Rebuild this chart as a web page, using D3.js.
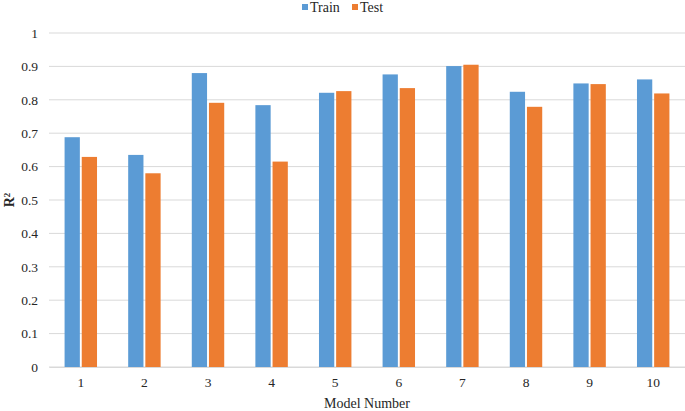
<!DOCTYPE html>
<html>
<head>
<meta charset="utf-8">
<script src="https://cdn.jsdelivr.net/npm/d3@7"></script>
<style>
  body { margin: 0; background: #fff; }
  svg text { font-family: "Liberation Serif", "Times New Roman", serif; fill: #262626; }
</style>
</head>
<body>
<div id="chart"></div>
<script>
// data
const models = ["1", "2", "3", "4", "5", "6", "7", "8", "9", "10"];
const train = [0.688, 0.635, 0.880, 0.784, 0.821, 0.876, 0.901, 0.824, 0.849, 0.861];
const test = [0.629, 0.580, 0.791, 0.615, 0.826, 0.835, 0.905, 0.779, 0.847, 0.819];
const yTicks = [0, 0.1, 0.2, 0.3, 0.4, 0.5, 0.6, 0.7, 0.8, 0.9, 1];
const seriesNames = ["Train", "Test"];
const colors = ["#5B9BD5", "#ED7D31"];

const W = 685, H = 411;
const margin = { top: 33, right: 0, bottom: 44, left: 49 };
const width = W - margin.left - margin.right;
const height = H - margin.top - margin.bottom;

const svg = d3.select("#chart")
    .append("svg")
    .attr("width", W)
    .attr("height", H);

const g = svg.append("g")
    .attr("transform", `translate(${margin.left},${margin.top})`);

// scales
const x = d3.scaleBand()
    .domain(models)
    .range([0, width]);

const xInner = d3.scaleBand()
    .domain(seriesNames)
    .range([x.bandwidth() * 0.245, x.bandwidth() * 0.755])
    .paddingInner(0.11);

const y = d3.scaleLinear()
    .domain([0, 1])
    .range([height, 0]);

// gridlines
g.append("g")
    .selectAll("line")
    .data(yTicks)
    .join("line")
    .attr("x1", 0)
    .attr("x2", width)
    .attr("y1", d => y(d))
    .attr("y2", d => y(d))
    .attr("stroke", "#d9d9d9")
    .attr("stroke-width", 1);

// y tick labels
g.append("g")
    .selectAll("text")
    .data(yTicks)
    .join("text")
    .attr("x", -11)
    .attr("y", d => y(d))
    .attr("dy", "0.35em")
    .attr("text-anchor", "end")
    .style("font-size", "13.5px")
    .text(d => d3.format("")(d));

// bars
const tableData = models.map((m, i) => ({ model: m, values: [train[i], test[i]] }));

const groups = g.append("g")
    .selectAll("g")
    .data(tableData)
    .join("g")
    .attr("transform", d => `translate(${x(d.model)},0)`);

groups.selectAll("rect")
    .data(d => d.values.map((v, j) => ({ key: seriesNames[j], value: v, color: colors[j] })))
    .join("rect")
    .attr("x", d => xInner(d.key))
    .attr("width", xInner.bandwidth())
    .attr("y", d => y(d.value))
    .attr("height", d => height - y(d.value))
    .attr("fill", d => d.color);

// x axis
const xAxis = g.append("g")
    .attr("transform", `translate(0,${height})`)
    .call(d3.axisBottom(x).tickSize(0).tickPadding(10));
xAxis.select(".domain").attr("stroke", "#d9d9d9");
xAxis.selectAll("text")
    .style("font-size", "13.5px")
    .style("font-family", "Liberation Serif, serif")
    .attr("fill", "#262626");

// axis titles
svg.append("text")
    .attr("transform", `translate(14,${margin.top + height / 2}) rotate(-90)`)
    .attr("text-anchor", "middle")
    .style("font-size", "14px")
    .style("font-weight", "bold")
    .html('R<tspan dy="-4" font-size="9">2</tspan>');

svg.append("text")
    .attr("x", margin.left + width / 2)
    .attr("y", H - 3)
    .attr("text-anchor", "middle")
    .style("font-size", "14px")
    .text("Model Number");

// legend
const legend = svg.append("g").attr("transform", "translate(302,0)");
const legendX = [0, 50];
seriesNames.forEach((s, i) => {
    legend.append("rect")
        .attr("x", legendX[i])
        .attr("y", 4)
        .attr("width", 6)
        .attr("height", 6)
        .attr("fill", colors[i]);
    legend.append("text")
        .attr("x", legendX[i] + 8)
        .attr("y", 12)
        .style("font-size", "14px")
        .text(s);
});
</script>
</body>
</html>
